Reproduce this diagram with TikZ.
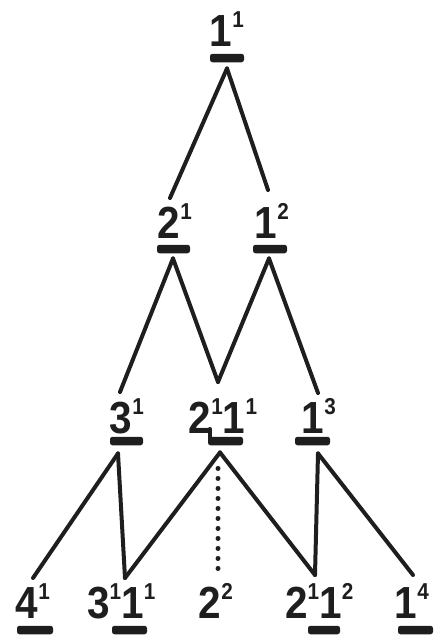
\documentclass[tikz,border=0pt]{standalone}
\usepackage{fontspec}
\newfontfamily\labfont[FakeStretch=0.9]{Liberation Sans}
\usetikzlibrary{calc}
\definecolor{ink}{HTML}{1E1E1E}
\newcommand\supr[1]{\raisebox{19pt}{\fontsize{23}{23}\selectfont #1}}
\tikzset{
  lab/.style={anchor=base west, inner sep=0pt, text=ink,
    font=\labfont\bfseries\fontsize{45}{45}\selectfont},
  bar/.style={fill=ink, rounded corners=2.5pt, minimum height=8.5pt, inner sep=0pt},
  edge/.style={draw=ink, line width=4pt, line cap=round, line join=round},
  dots/.style={draw=ink, line width=5pt, line cap=round, dash pattern=on 0pt off 10pt}
}
\begin{document}
\begin{tikzpicture}[x=1pt,y=-1pt]
\useasboundingbox (0,0) rectangle (435,638);
% labels
\node[lab] (v0)   at (209.6,46)  {1\supr{1}};
\node[lab] (v21)  at (157.75,238) {2\supr{1}};
\node[lab] (v12)  at (254.6,238) {1\supr{2}};
\node[lab] (v31)  at (109.75,433) {3\supr{1}};
\node[lab] (v211) at (188.75,433) {2\supr{1}1\supr{1}};
\node[lab] (v13)  at (301.6,433) {1\supr{3}};
\node[lab] (v41)  at (15.75,618)  {4\supr{1}};
\node[lab] (v311) at (87,618)  {3\supr{1}1\supr{1}};
\node[lab] (v22)  at (198.75,618) {2\supr{2}};
\node[lab] (v212) at (285,618) {2\supr{1}1\supr{2}};
\node[lab] (v14)  at (394.6,618) {1\supr{4}};
% bars
\node[bar, minimum width=34pt] (b0)   at (227,58) {};
\node[bar, minimum width=33pt] (b21)  at (173.5,249) {};
\node[bar, minimum width=34pt] (b12)  at (270,249) {};
\node[bar, minimum width=33pt] (b31)  at (126.5,441) {};
\node[bar, minimum width=35pt] (b211) at (225.5,441) {};
\node[bar, minimum width=35pt] (b13)  at (312.5,441) {};
\node[bar, minimum width=36pt] (b41)  at (35,630) {};
\node[bar, minimum width=35pt] (b311) at (129.5,630) {};
\node[bar, minimum width=32pt] (b212) at (324,630) {};
\node[bar, minimum width=35pt] (b14)  at (415.5,630) {};
\draw[edge] ([xshift=2pt]b211.west) -- ++(0,-12);
% connectors
\draw[edge] ($(b0.south)+(0,6)$) -- ($(v21.base west)+(12.25,-40)$);
\draw[edge] ($(b0.south)+(0,6)$) -- ($(v12.base west)+(13.4,-48)$);
\draw[edge] ($(b21.south)+(-0.5,5)$) -- ($(v31.base west)+(10.25,-41)$);
\draw[edge] ($(b21.south)+(-0.5,5)$) -- ($(v211.base west)+(29.25,-51)$);
\draw[edge] ($(b12.south)+(-1,5)$) -- ($(v211.base west)+(29.25,-51)$);
\draw[edge] ($(b12.south)+(-1,5)$) -- ($(v13.base west)+(16.4,-40)$);
\draw[edge] ($(b31.south)+(-8.5,8)$) -- ($(v41.base west)+(17.25,-40)$);
\draw[edge] ($(b31.south)+(-8.5,8)$) -- ($(v311.base west)+(38,-40)$);
\draw[edge] ($(b211.south)+(-5.5,7)$) -- ($(v311.base west)+(38,-40)$);
\draw[edge] ($(b211.south)+(-5.5,7)$) -- ($(v212.base west)+(30,-43)$);
\draw[dots] ($(b211.south)+(-7.5,23)$) -- ($(v22.base west)+(19.25,-43)$);
\draw[edge] ($(b13.south)+(5.5,8)$) -- ($(v212.base west)+(30,-43)$);
\draw[edge] ($(b13.south)+(5.5,8)$) -- ($(v14.base west)+(18.4,-43)$);
\end{tikzpicture}
\end{document}
